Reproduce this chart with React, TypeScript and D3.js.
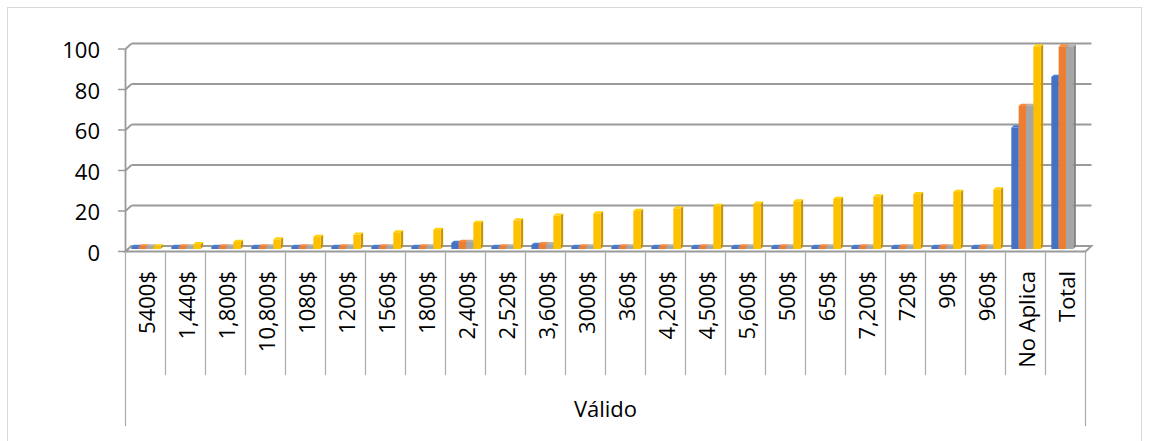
import React from "react";
import * as d3 from "d3";

const categories = [
  "5400$", "1,440$", "1,800$", "10,800$", "1080$", "1200$", "1560$", "1800$",
  "2,400$", "2,520$", "3,600$", "3000$", "360$", "4,200$", "4,500$", "5,600$",
  "500$", "650$", "7,200$", "720$", "90$", "960$", "No Aplica", "Total",
];
const frecuencia = [1, 1, 1, 1, 1, 1, 1, 1, 3, 1, 2, 1, 1, 1, 1, 1, 1, 1, 1, 1, 1, 1, 60, 85];
const porcentaje = [1.2, 1.2, 1.2, 1.2, 1.2, 1.2, 1.2, 1.2, 3.5, 1.2, 2.4, 1.2, 1.2, 1.2, 1.2, 1.2, 1.2, 1.2, 1.2, 1.2, 1.2, 1.2, 70.6, 100];
const porcentajeValido = [1.2, 1.2, 1.2, 1.2, 1.2, 1.2, 1.2, 1.2, 3.5, 1.2, 2.4, 1.2, 1.2, 1.2, 1.2, 1.2, 1.2, 1.2, 1.2, 1.2, 1.2, 1.2, 70.6, 100];
const porcentajeAcumulado: (number | null)[] = [1.2, 2.4, 3.5, 4.7, 5.9, 7.1, 8.2, 9.4, 12.9, 14.1, 16.5, 17.6, 18.8, 20.0, 21.2, 22.4, 23.5, 24.7, 25.9, 27.1, 28.2, 29.4, 100, null];
const seriesNames = ["Frecuencia", "Porcentaje", "Porcentaje válido", "Porcentaje acumulado"];
const seriesColors = ["#4472C4", "#ED7D31", "#A5A5A5", "#FFC000"];
const yTicks = [0, 20, 40, 60, 80, 100];
const groupLabel = "Válido";

const W = 1150;
const H = 441;
const FONT = "'Open Sans', sans-serif";

export default function App() {
  const series = [frecuencia, porcentaje, porcentajeValido, porcentajeAcumulado];
  const left = 125.5;
  const right = 1085.5;
  const depthX = 6;
  const depthY = -5.5;
  const y = d3.scaleLinear().domain([0, 100]).range([251.5, 49]);
  const x = d3.scaleBand<string>().domain(categories).range([left, right]).padding(0);
  const bw = x.bandwidth();
  const inner = d3
    .scaleBand<string>()
    .domain(seriesNames)
    .range([bw * 0.146, bw * 0.879])
    .padding(0);
  const w = inner.bandwidth();
  const barShiftY = -2.5;
  const bdx = 2.5;
  const bdy = -2.2;

  const gridColor = "#9a9a9a";

  const bars: React.ReactNode[] = [];
  categories.forEach((c, ci) => {
    series.forEach((s, si) => {
      const v = s[ci];
      if (v == null) return;
      const x0 = (x(c) as number) + (inner(seriesNames[si]) as number);
      const x1 = x0 + w;
      const yb = y(0) + barShiftY;
      const yt = y(v) + barShiftY;
      const col = d3.color(seriesColors[si])!;
      const side = col.darker(0.7).formatHex();
      const top = col.brighter(0.25).formatHex();
      bars.push(
        <g key={`${ci}-${si}`}>
          <polygon
            points={`${x1},${yb} ${x1 + bdx},${yb + bdy} ${x1 + bdx},${yt + bdy} ${x1},${yt}`}
            fill={side}
          />
          <polygon
            points={`${x0},${yt} ${x0 + bdx},${yt + bdy} ${x1 + bdx},${yt + bdy} ${x1},${yt}`}
            fill={top}
          />
          <rect x={x0} y={yt} width={w} height={yb - yt} fill={col.formatHex()} />
        </g>
      );
    });
  });

  return (
    <svg
      width={W}
      height={H}
      style={{ position: "absolute", left: 0, top: 0, background: "#fff" }}
      fontFamily={FONT}
    >
      <rect x={7.5} y={7.5} width={1134} height={450} fill="none" stroke="#d9d9d9" strokeWidth={1} />
      {/* gridlines */}
      {yTicks.map((t) => (
        <g key={t}>
          <line x1={118} x2={left} y1={y(t)} y2={y(t)} stroke={gridColor} strokeWidth={1.5} />
          <line
            x1={left}
            y1={y(t)}
            x2={left + depthX}
            y2={y(t) + depthY}
            stroke={gridColor}
            strokeWidth={1.8}
          />
          <line
            x1={left + depthX}
            x2={right + depthX}
            y1={y(t) + depthY}
            y2={y(t) + depthY}
            stroke={gridColor}
            strokeWidth={1.8}
          />
          <text
            x={100}
            y={y(t)}
            textAnchor="end"
            dominantBaseline="central"
            fontSize={22}
            fill="#000"
          >
            {t}
          </text>
        </g>
      ))}
      {/* floor */}
      <polygon
        points={`${left},${y(0)} ${left + depthX},${y(0) + depthY} ${right + depthX},${y(0) + depthY} ${right},${y(0)}`}
        fill="#fff"
        stroke={gridColor}
        strokeWidth={1.8}
      />
      {/* y axis */}
      <line x1={left} x2={left} y1={y(100)} y2={y(0)} stroke={gridColor} strokeWidth={1.8} />
      {bars}
      {/* category axis */}
      {categories.map((c, i) => (
        <line
          key={`t${i}`}
          x1={x(c) as number}
          x2={x(c) as number}
          y1={y(0)}
          y2={i === 0 ? 426 : 375}
          stroke="#aaaaaa"
          strokeWidth={1.2}
        />
      ))}
      <line x1={right} x2={right} y1={y(0)} y2={426} stroke="#aaaaaa" strokeWidth={1.2} />
      {categories.map((c) => {
        const cx = (x(c) as number) + bw / 2;
        return (
          <text
            key={`l${c}`}
            transform={`translate(${cx},271) rotate(-90)`}
            textAnchor="end"
            dominantBaseline="central"
            fontSize={22}
            fill="#000"
          >
            {c}
          </text>
        );
      })}
      <text
        x={(left + right) / 2}
        y={408}
        textAnchor="middle"
        dominantBaseline="central"
        fontSize={22}
        fill="#000"
      >
        {groupLabel}
      </text>
    </svg>
  );
}
